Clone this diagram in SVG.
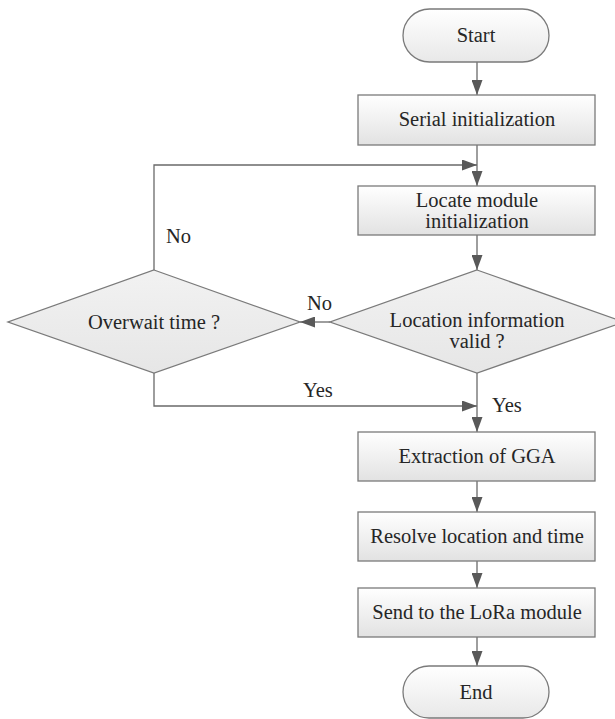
<svg xmlns="http://www.w3.org/2000/svg" width="615" height="719" viewBox="0 0 615 719">
  <defs>
    <linearGradient id="boxFill" x1="0" y1="0" x2="0" y2="1">
      <stop offset="0" stop-color="#ffffff"/>
      <stop offset="1" stop-color="#e2e2e2"/>
    </linearGradient>
    <linearGradient id="termFill" x1="0" y1="0" x2="0" y2="1">
      <stop offset="0" stop-color="#ffffff"/>
      <stop offset="1" stop-color="#e8e8e8"/>
    </linearGradient>
    <linearGradient id="decFill" x1="0" y1="0" x2="0" y2="1">
      <stop offset="0" stop-color="#f2f2f2"/>
      <stop offset="1" stop-color="#e6e6e6"/>
    </linearGradient>
    <marker id="arrow" viewBox="0 0 15 11" refX="15" refY="5.5" markerWidth="15" markerHeight="11" markerUnits="userSpaceOnUse" orient="auto">
      <path d="M0,0 L15,5.5 L0,11 Z" fill="#595959"/>
    </marker>
  </defs>
  <style>
    .box { fill: url(#boxFill); stroke: #7a7a7a; stroke-width: 1.3; }
    .term { fill: url(#termFill); stroke: #7a7a7a; stroke-width: 1.3; }
    .dec { fill: url(#decFill); stroke: #7a7a7a; stroke-width: 1.3; }
    .link { fill: none; stroke: #6a6a6a; stroke-width: 1.3; }
    .arr { marker-end: url(#arrow); }
    .t { font-size: 20.5px; fill: #262626; }
    .c { text-anchor: middle; }
  </style>

  <rect width="615" height="719" fill="#ffffff"/>

  <g font-family="Liberation Serif, Tinos, Times New Roman, DejaVu Serif, serif">
  <!-- connectors -->
  <g id="connectors">
    <line class="link arr" x1="477" y1="62" x2="477" y2="95"/>
    <line class="link arr" x1="477" y1="145" x2="477" y2="186"/>
    <polyline class="link arr" points="154,270 154,165 477,165"/>
    <line class="link arr" x1="477" y1="235" x2="477" y2="270"/>
    <line class="link arr" x1="330" y1="322" x2="300" y2="322"/>
    <polyline class="link arr" points="154,373 154,406 477,406"/>
    <line class="link arr" x1="477" y1="373" x2="477" y2="432"/>
    <line class="link arr" x1="477" y1="481" x2="477" y2="512"/>
    <line class="link arr" x1="477" y1="561" x2="477" y2="588"/>
    <line class="link arr" x1="477" y1="637" x2="477" y2="666"/>
    <text class="t" x="166" y="243">No</text>
    <text class="t" x="307" y="310">No</text>
    <text class="t" x="303" y="397">Yes</text>
    <text class="t" x="492" y="412">Yes</text>
  </g>

  <!-- nodes -->
  <g id="start">
    <rect class="term" x="403" y="9" width="146" height="53" rx="26.5" ry="26.5"/>
    <text class="t c" x="476" y="42">Start</text>
  </g>
  <g id="serial-init">
    <rect class="box" x="358" y="95" width="237" height="50"/>
    <text class="t c" x="477" y="126">Serial initialization</text>
  </g>
  <g id="locate-init">
    <rect class="box" x="358" y="186" width="237" height="49"/>
    <text class="t c" x="477" y="207">Locate module</text>
    <text class="t c" x="477" y="228">initialization</text>
  </g>
  <g id="location-valid">
    <polygon class="dec" points="477,270 624,322 477,373 330,322"/>
    <text class="t c" x="477" y="327">Location information</text>
    <text class="t c" x="477" y="348">valid ?</text>
  </g>
  <g id="overwait">
    <polygon class="dec" points="154,270 300,322 154,373 8,322"/>
    <text class="t c" x="154" y="329">Overwait time ?</text>
  </g>
  <g id="extract-gga">
    <rect class="box" x="358" y="432" width="237" height="49"/>
    <text class="t c" x="477" y="463">Extraction of GGA</text>
  </g>
  <g id="resolve">
    <rect class="box" x="358" y="512" width="237" height="49"/>
    <text class="t c" x="477" y="543">Resolve location and time</text>
  </g>
  <g id="send-lora">
    <rect class="box" x="358" y="588" width="237" height="49"/>
    <text class="t c" x="477" y="619">Send to the LoRa module</text>
  </g>
  <g id="end">
    <rect class="term" x="403" y="666" width="146" height="52" rx="26" ry="26"/>
    <text class="t c" x="476" y="699">End</text>
  </g>
  </g>
</svg>
